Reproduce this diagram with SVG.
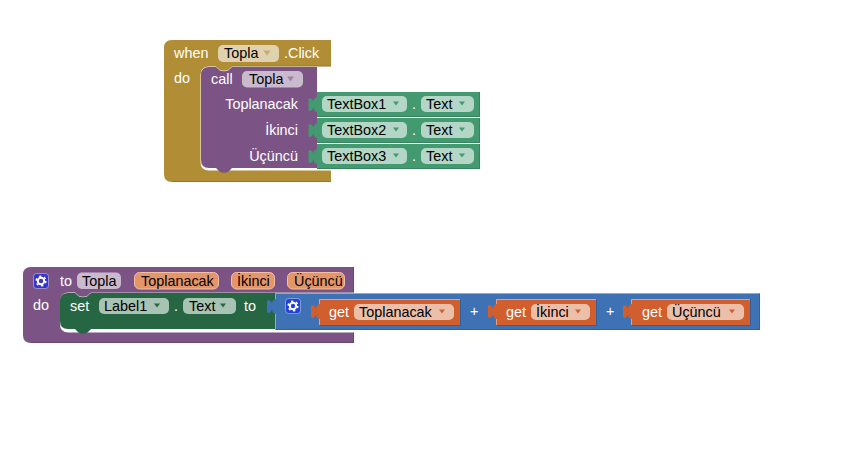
<svg xmlns="http://www.w3.org/2000/svg" width="862" height="453" viewBox="0 0 862 453">
<style>
text{font-family:"Liberation Sans",Arial,sans-serif;font-size:14.4px}
.w{fill:#fff}
.k{fill:#000}
.e{text-anchor:end}
.f{fill-opacity:.6;fill:#fff}
.a{fill-opacity:.55}
.gold{fill:#b18e35}
.pur{fill:#7c5385}
.teal{fill:#439970}
.dk{fill:#266643}
.blue{fill:#3f71b5}
.or{fill:#d05f2d}
.arg{fill:#e5956a;stroke:#f0c0a4;stroke-width:1}
.lo{fill:none;stroke:#000;stroke-opacity:.15;stroke-width:1}
.hi{fill:none;stroke:#fff;stroke-opacity:.4;stroke-width:1}
.mut{stroke:#fff;stroke-opacity:.4}
.gear{fill:none;stroke:#fff}
</style>
<defs>
<path id="tab" d="M1 0C-1 0 -2.500 1.500 -3 4.500C-4.500 1 -8 -0.500 -8 3V12C-8 15.500 -4.500 14 -3 10.500C-2.500 13.500 -1 15 1 15Z"/>
<g id="gear">
<circle r="3.200" class="gear" stroke-width="2"/>
<circle r="4.800" class="gear" stroke-width="1.600" stroke-dasharray="2.200 2.830"/>
</g>
</defs>
<g id="when-click">
<path class="gold" d="M172 40H331V66.500H232L228 70Q224 71.500 220 70L216 66.500H209Q200.500 66.500 200.500 75V162Q200.500 170.500 209 170.500H331V182H172Q164 182 164 174V48Q164 40 172 40Z"/>
<path class="lo" d="M331 66H232M331 181.500H172"/>
<text class="w" x="174" y="58">when</text>
<rect class="f" x="218" y="45" width="61" height="17" rx="5"/>
<text class="k" x="224" y="58">Topla</text>
<path class="gold a" transform="translate(267 50.500)" d="M-3.500 0H3.500L0 5Z"/>
<text class="w" x="284" y="58">.Click</text>
<text class="w" x="174" y="83">do</text>
</g>
<g id="call-topla">
<path class="pur" d="M209 67H216L220 70.500Q224 72 228 70.500L232 67H317V168H232L228.500 171.500Q224 174 219.500 171.500L216 168H209Q201 168 201 160V75Q201 67 209 67Z"/>
<text class="w" x="211" y="84">call</text>
<rect class="f" x="242" y="71" width="61" height="16.500" rx="5"/>
<text class="k" x="249" y="84">Topla</text>
<path class="pur a" transform="translate(290.500 76.500)" d="M-3.500 0H3.500L0 5Z"/>
<text class="w e" x="298" y="109">Toplanacak</text>
<text class="w e" x="298" y="135">İkinci</text>
<text class="w e" x="298" y="161">Üçüncü</text>
</g>
<g id="textbox1-text">
<rect class="teal" x="317" y="92" width="163" height="25"/>
<path class="lo" d="M317 116.500H479.500V92"/>
<use href="#tab" class="teal" x="316.500" y="97"/>
<rect class="f" x="322" y="96" width="85" height="16" rx="5"/>
<text class="k" x="327" y="109">TextBox1</text>
<path class="teal" transform="translate(396 101.500)" d="M-3 0H3L0 4Z"/>
<rect class="f" x="421" y="96" width="53" height="16" rx="5"/>
<text class="k" x="426" y="109">Text</text>
<path class="teal" transform="translate(462 101.500)" d="M-3 0H3L0 4Z"/>
<text class="w" x="412" y="109">.</text>
</g>
<g id="textbox2-text">
<rect class="teal" x="317" y="118" width="163" height="25"/>
<path class="lo" d="M317 142.500H479.500V118"/>
<use href="#tab" class="teal" x="316.500" y="123"/>
<rect class="f" x="322" y="122" width="85" height="16" rx="5"/>
<text class="k" x="327" y="135">TextBox2</text>
<path class="teal" transform="translate(396 127.500)" d="M-3 0H3L0 4Z"/>
<rect class="f" x="421" y="122" width="53" height="16" rx="5"/>
<text class="k" x="426" y="135">Text</text>
<path class="teal" transform="translate(462 127.500)" d="M-3 0H3L0 4Z"/>
<text class="w" x="412" y="135">.</text>
</g>
<g id="textbox3-text">
<rect class="teal" x="317" y="144" width="163" height="25"/>
<path class="lo" d="M317 168.500H479.500V144"/>
<use href="#tab" class="teal" x="316.500" y="149"/>
<rect class="f" x="322" y="148" width="85" height="16" rx="5"/>
<text class="k" x="327" y="161">TextBox3</text>
<path class="teal" transform="translate(396 153.500)" d="M-3 0H3L0 4Z"/>
<rect class="f" x="421" y="148" width="53" height="16" rx="5"/>
<text class="k" x="426" y="161">Text</text>
<path class="teal" transform="translate(462 153.500)" d="M-3 0H3L0 4Z"/>
<text class="w" x="412" y="161">.</text>
</g>
<g id="to-topla">
<path class="pur" d="M31 267H354V292.500H91L87 296Q83 297.500 79 296L75 292.500H68.500Q60 292.500 60 301V324Q60 332.500 68.500 332.500H354V343H31Q23 343 23 335V275Q23 267 31 267Z"/>
<path class="lo" d="M353.500 267V292.500H91M353.500 332.500V342.500H31"/>
<rect x="33.500" y="273.500" width="15" height="15" rx="3" fill="#3636c8" class="mut"/>
<use href="#gear" x="41" y="281"/>
<text class="w" x="60" y="286">to</text>
<rect class="f" x="77" y="272.500" width="44" height="16.500" rx="5"/>
<text class="k" x="82" y="286">Topla</text>
<rect class="arg" x="134.500" y="272.500" width="84" height="16.500" rx="5"/>
<text class="k" x="141" y="286">Toplanacak</text>
<rect class="arg" x="231.500" y="272.500" width="43" height="16.500" rx="5"/>
<text class="k" x="237" y="286">İkinci</text>
<rect class="arg" x="287.500" y="272.500" width="57" height="16.500" rx="5"/>
<text class="k" x="294" y="286">Üçüncü</text>
<text class="w" x="33" y="310">do</text>
</g>
<g id="set-label">
<path class="dk" d="M68 293H75L79 296.500Q83 298 87 296.500L91 293H275V329H91L87.500 332.500Q83 335 78.500 332.500L75 329H68Q60 329 60 321V301Q60 293 68 293Z"/>
<text class="w" x="70" y="311">set</text>
<rect class="f" x="99" y="298" width="70" height="16" rx="5"/>
<text class="k" x="104" y="311">Label1</text>
<path class="dk" transform="translate(157 303.500)" d="M-3 0H3L0 4Z"/>
<text class="w" x="174" y="311">.</text>
<rect class="f" x="183" y="298" width="53" height="16" rx="5"/>
<text class="k" x="189" y="311">Text</text>
<path class="dk" transform="translate(223 303.500)" d="M-3 0H3L0 4Z"/>
<text class="w" x="244" y="311">to</text>
</g>
<g id="add-block">
<rect class="blue" x="275" y="293" width="485" height="37"/>
<path class="hi" d="M275.500 329.500V293.500H760"/>
<path class="lo" d="M276 329.500H759.500V293"/>
<use href="#tab" class="blue" x="275" y="299"/>
<rect x="285.500" y="298.500" width="15" height="15" rx="3" fill="#2342dc" class="mut"/>
<use href="#gear" x="293" y="306"/>
<text class="w" x="470" y="316">+</text>
<text class="w" x="606" y="316">+</text>
</g>
<g id="get-toplanacak">
<rect class="or" x="319" y="299" width="141" height="26"/>
<path class="hi" d="M319.500 325V299.500H460"/>
<path class="lo" d="M320 325.500H460.500V299"/>
<use href="#tab" class="or" x="319" y="304"/>
<text class="w" x="329" y="317">get</text>
<rect class="f" x="354" y="304" width="100" height="16" rx="5"/>
<text class="k" x="359" y="317">Toplanacak</text>
<path class="or" transform="translate(442 309.500)" d="M-3 0H3L0 4Z"/>
</g>
<g id="get-ikinci">
<rect class="or" x="496" y="299" width="100" height="26"/>
<path class="hi" d="M496.500 325V299.500H596"/>
<path class="lo" d="M497 325.500H596.500V299"/>
<use href="#tab" class="or" x="496" y="304"/>
<text class="w" x="506" y="317">get</text>
<rect class="f" x="531" y="304" width="59" height="16" rx="5"/>
<text class="k" x="536" y="317">İkinci</text>
<path class="or" transform="translate(578 309.500)" d="M-3 0H3L0 4Z"/>
</g>
<g id="get-ucuncu">
<rect class="or" x="631" y="299" width="119" height="26"/>
<path class="hi" d="M631.500 325V299.500H750"/>
<path class="lo" d="M632 325.500H750.500V299"/>
<use href="#tab" class="or" x="631" y="304"/>
<text class="w" x="642" y="317">get</text>
<rect class="f" x="667" y="304" width="77" height="16" rx="5"/>
<text class="k" x="672" y="317">Üçüncü</text>
<path class="or" transform="translate(732 309.500)" d="M-3 0H3L0 4Z"/>
</g>
<g id="connectors"/>
</svg>
